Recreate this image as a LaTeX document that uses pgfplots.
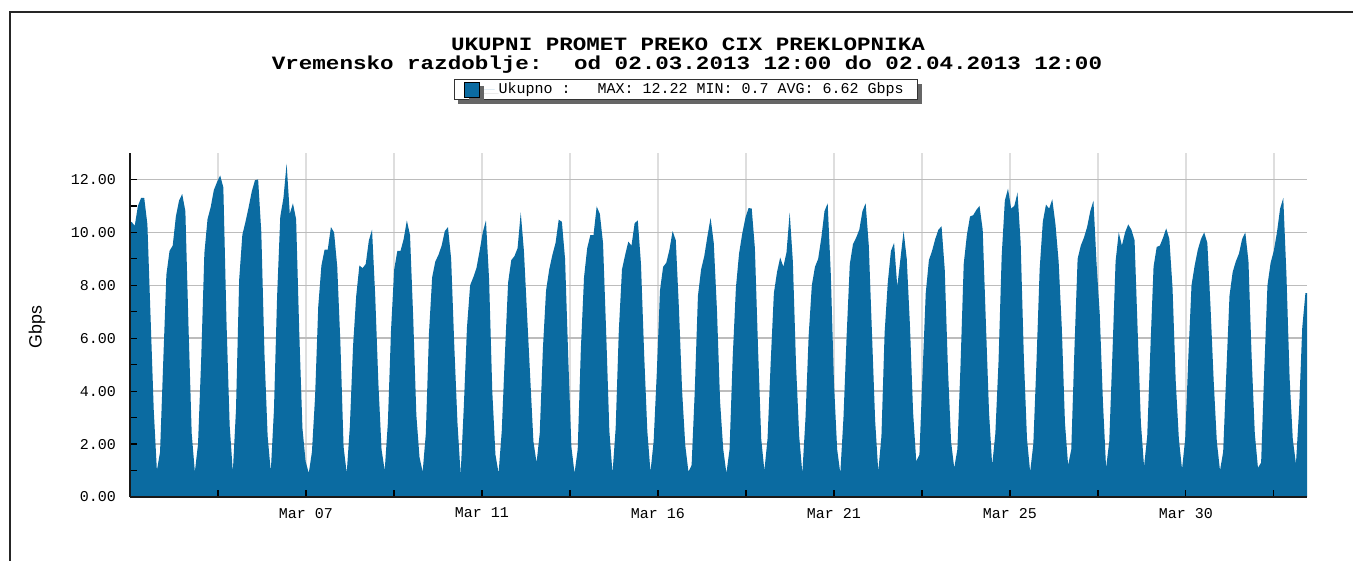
\documentclass[border=0pt]{standalone}
\usepackage{fontspec}
\setmainfont{Liberation Sans}
\newfontfamily\monof{Liberation Mono}
\usepackage{pgfplots}
\pgfplotsset{compat=1.18}
\usepackage{pgfplotstable}
\usetikzlibrary{shadows}
\definecolor{areablue}{RGB}{11,107,161}
\definecolor{hgrid}{RGB}{188,188,188}
\definecolor{vgrid}{RGB}{222,222,222}
% two-hourly samples (13,15,...,23,1,3,...,11 h), first row = Mar 2 11:00
\pgfplotstableread[row sep=\\, header=false]{
10.3\\
10.4\\ 10.25\\ 11.0\\ 11.3\\ 11.3\\ 10.3\\ 6.8\\ 3.3\\ 1.0\\ 1.7\\ 5.1\\ 8.4\\
9.3\\ 9.5\\ 10.6\\ 11.2\\ 11.45\\ 10.8\\ 6.4\\ 2.4\\ 0.95\\ 2.0\\ 5.2\\ 9.2\\
10.5\\ 10.95\\ 11.6\\ 11.9\\ 12.15\\ 11.7\\ 6.6\\ 2.7\\ 0.95\\ 3.3\\ 8.2\\ 9.9\\
10.4\\ 10.95\\ 11.55\\ 11.97\\ 12.0\\ 10.0\\ 5.4\\ 2.3\\ 0.96\\ 3.3\\ 7.6\\ 10.6\\
11.3\\ 12.6\\ 10.7\\ 11.1\\ 10.5\\ 6.2\\ 2.6\\ 1.35\\ 0.9\\ 1.7\\ 3.8\\ 7.2\\
8.75\\ 9.35\\ 9.35\\ 10.2\\ 10.0\\ 8.7\\ 5.8\\ 1.9\\ 0.9\\ 2.7\\ 5.7\\ 7.6\\
8.75\\ 8.65\\ 8.8\\ 9.7\\ 10.1\\ 7.6\\ 4.3\\ 1.8\\ 1.0\\ 2.8\\ 6.3\\ 8.6\\
9.3\\ 9.3\\ 9.75\\ 10.45\\ 9.9\\ 6.8\\ 3.1\\ 1.5\\ 0.95\\ 2.4\\ 6.2\\ 8.3\\
8.9\\ 9.15\\ 9.5\\ 10.05\\ 10.2\\ 9.0\\ 5.7\\ 2.8\\ 0.85\\ 3.4\\ 6.4\\ 8.0\\
8.3\\ 8.65\\ 9.3\\ 10.0\\ 10.45\\ 8.2\\ 4.0\\ 1.6\\ 0.9\\ 2.5\\ 5.4\\ 8.1\\
8.95\\ 9.1\\ 9.4\\ 10.75\\ 9.3\\ 6.9\\ 4.5\\ 2.1\\ 1.3\\ 2.4\\ 5.6\\ 7.8\\
8.6\\ 9.15\\ 9.6\\ 10.48\\ 10.4\\ 9.0\\ 5.3\\ 1.9\\ 0.9\\ 1.8\\ 5.6\\ 8.3\\
9.4\\ 9.9\\ 9.9\\ 10.98\\ 10.7\\ 9.6\\ 6.2\\ 2.5\\ 0.9\\ 2.6\\ 6.3\\ 8.6\\
9.15\\ 9.65\\ 9.5\\ 10.35\\ 10.45\\ 8.8\\ 5.4\\ 2.5\\ 0.95\\ 2.1\\ 4.7\\ 7.8\\
8.7\\ 8.85\\ 9.35\\ 10.05\\ 9.7\\ 7.1\\ 4.0\\ 1.95\\ 0.95\\ 1.2\\ 4.0\\ 7.6\\
8.6\\ 9.1\\ 9.85\\ 10.55\\ 9.6\\ 7.1\\ 3.6\\ 1.8\\ 0.9\\ 1.8\\ 5.3\\ 7.9\\
9.2\\ 9.95\\ 10.55\\ 10.92\\ 10.9\\ 9.4\\ 5.6\\ 2.2\\ 1.0\\ 2.2\\ 5.1\\ 7.7\\
8.5\\ 9.05\\ 8.7\\ 9.25\\ 10.75\\ 8.9\\ 5.0\\ 2.3\\ 0.9\\ 3.0\\ 6.1\\ 8.0\\
8.7\\ 9.0\\ 9.8\\ 10.8\\ 11.1\\ 8.4\\ 4.3\\ 1.8\\ 0.9\\ 3.0\\ 6.1\\ 8.8\\
9.55\\ 9.8\\ 10.1\\ 10.8\\ 11.1\\ 9.5\\ 6.2\\ 2.9\\ 0.96\\ 2.3\\ 6.2\\ 8.1\\
9.3\\ 9.6\\ 7.95\\ 9.0\\ 10.05\\ 9.0\\ 6.5\\ 3.2\\ 1.35\\ 1.6\\ 4.7\\ 7.7\\
8.95\\ 9.3\\ 9.75\\ 10.1\\ 10.23\\ 8.6\\ 4.9\\ 2.1\\ 1.1\\ 1.8\\ 5.0\\ 8.8\\
9.9\\ 10.6\\ 10.65\\ 10.85\\ 11.0\\ 10.1\\ 6.6\\ 3.2\\ 1.2\\ 2.4\\ 5.1\\ 9.1\\
11.2\\ 11.65\\ 10.9\\ 11.0\\ 11.5\\ 9.6\\ 5.3\\ 2.2\\ 0.95\\ 2.0\\ 5.1\\ 8.6\\
10.4\\ 11.05\\ 10.9\\ 11.25\\ 10.3\\ 8.9\\ 6.4\\ 2.8\\ 1.2\\ 1.8\\ 5.6\\ 9.0\\
9.5\\ 9.8\\ 10.2\\ 10.8\\ 11.2\\ 8.8\\ 6.9\\ 3.6\\ 1.1\\ 2.1\\ 5.4\\ 8.9\\
10.0\\ 9.5\\ 10.0\\ 10.3\\ 10.1\\ 9.7\\ 6.2\\ 2.8\\ 1.15\\ 2.3\\ 5.6\\ 8.7\\
9.45\\ 9.5\\ 9.8\\ 10.15\\ 9.75\\ 7.9\\ 4.4\\ 2.2\\ 1.05\\ 2.2\\ 5.3\\ 8.0\\
8.75\\ 9.35\\ 9.75\\ 10.0\\ 9.6\\ 7.2\\ 4.4\\ 2.1\\ 1.0\\ 1.7\\ 4.7\\ 7.6\\
8.5\\ 8.9\\ 9.2\\ 9.75\\ 10.0\\ 8.9\\ 5.3\\ 2.4\\ 1.1\\ 1.3\\ 4.8\\ 8.0\\
8.85\\ 9.3\\ 10.0\\ 10.9\\ 11.3\\ 8.4\\ 4.5\\ 2.2\\ 1.25\\ 3.3\\ 6.4\\ 7.7\\
7.7\\
}\traffic
\newcommand{\xticks}{2.3175,4.635,6.9525,9.27,11.5875,13.905,16.2225,18.54,20.8575,23.175,25.4925,27.81,30.1275}
\begin{document}
\begin{tikzpicture}
\path[use as bounding box] (0,0) rectangle (676.5pt,280.5pt);
\draw[line width=1pt, black!85] (5pt,0pt) -- (5pt,274.5pt) -- (676.5pt,274.5pt);
\node[font=\monof\bfseries\fontsize{9.4}{10}\selectfont, anchor=base, inner sep=0pt] at (344pt,255pt) {\scalebox{1.2}[1]{UKUPNI PROMET PREKO CIX PREKLOPNIKA}};
\node[font=\monof\bfseries\fontsize{9.4}{10}\selectfont, anchor=base, inner sep=0pt] at (343.5pt,245.5pt) {\scalebox{1.2}[1]{Vremensko razdoblje: \ od 02.03.2013 12:00 do 02.04.2013 12:00}};
\begin{axis}[
  at={(65pt,32pt)}, anchor=south west,
  scale only axis, width=588.5pt, height=172pt,
  xmin=0, xmax=31, ymin=0, ymax=13,
  xtick/.expand once=\xticks,
  xticklabels={,Mar 07,,Mar 11,,Mar 16,,Mar 21,,Mar 25,,Mar 30,},
  ytick={0,2,...,12},
  grid=major,
  x grid style={draw=vgrid, line width=0.75pt},
  y grid style={draw=hgrid, line width=0.75pt},
  axis line style={draw=none},
  major tick length=0pt,
  /pgf/number format/assume math mode=true,
  tick label style={font=\monof\fontsize{7.5}{9}\selectfont},
  yticklabel style={xshift=-3.5pt, /pgf/number format/fixed, /pgf/number format/fixed zerofill, /pgf/number format/precision=2},
  xticklabel style={yshift=-2pt},
  ylabel={Gbps},
  ylabel style={font=\fontsize{8.9}{10}\selectfont, at={(axis description cs:-0.079,0.494)}, anchor=center},
  legend style={at={(axis description cs:0.4724,1.215)}, anchor=north, draw=black!80, fill=white, line width=0.6pt,
    font=\monof\fontsize{7.5}{9}\selectfont, inner xsep=5pt, inner ysep=0pt,
    nodes={inner ysep=1.5pt},
    drop shadow={shadow xshift=2pt, shadow yshift=-2pt, fill=black!60, opacity=1}},
  legend image code/.code={\path (0pt,0pt) -- (15pt,0pt);\draw[#1, draw=black, line width=0.5pt] (0pt,-3.75pt) rectangle (7.5pt,3.75pt);},
]
\addplot[fill=areablue, draw=none] table[x expr=\coordindex/12-1/24, y index=0]{\traffic} \closedcycle;
\addlegendentry{Ukupno :\ \ \ MAX: 12.22 MIN: 0.7 AVG: 6.62 Gbps}
\end{axis}
\begin{axis}[
  at={(65pt,32pt)}, anchor=south west,
  scale only axis, width=588.5pt, height=172pt,
  xmin=0, xmax=31, ymin=0, ymax=13,
  axis x line*=bottom, axis y line*=left,
  axis line style={line width=0.9pt, draw=black!90, -},
  xtick/.expand once=\xticks, xticklabels={},
  ytick={0,2,...,12}, minor ytick={1,3,...,11}, yticklabels={},
  tick align=inside, major tick length=3.5pt, minor tick length=3.5pt,
  every tick/.style={black, line width=0.6pt},
]
\end{axis}
\end{tikzpicture}
\end{document}
